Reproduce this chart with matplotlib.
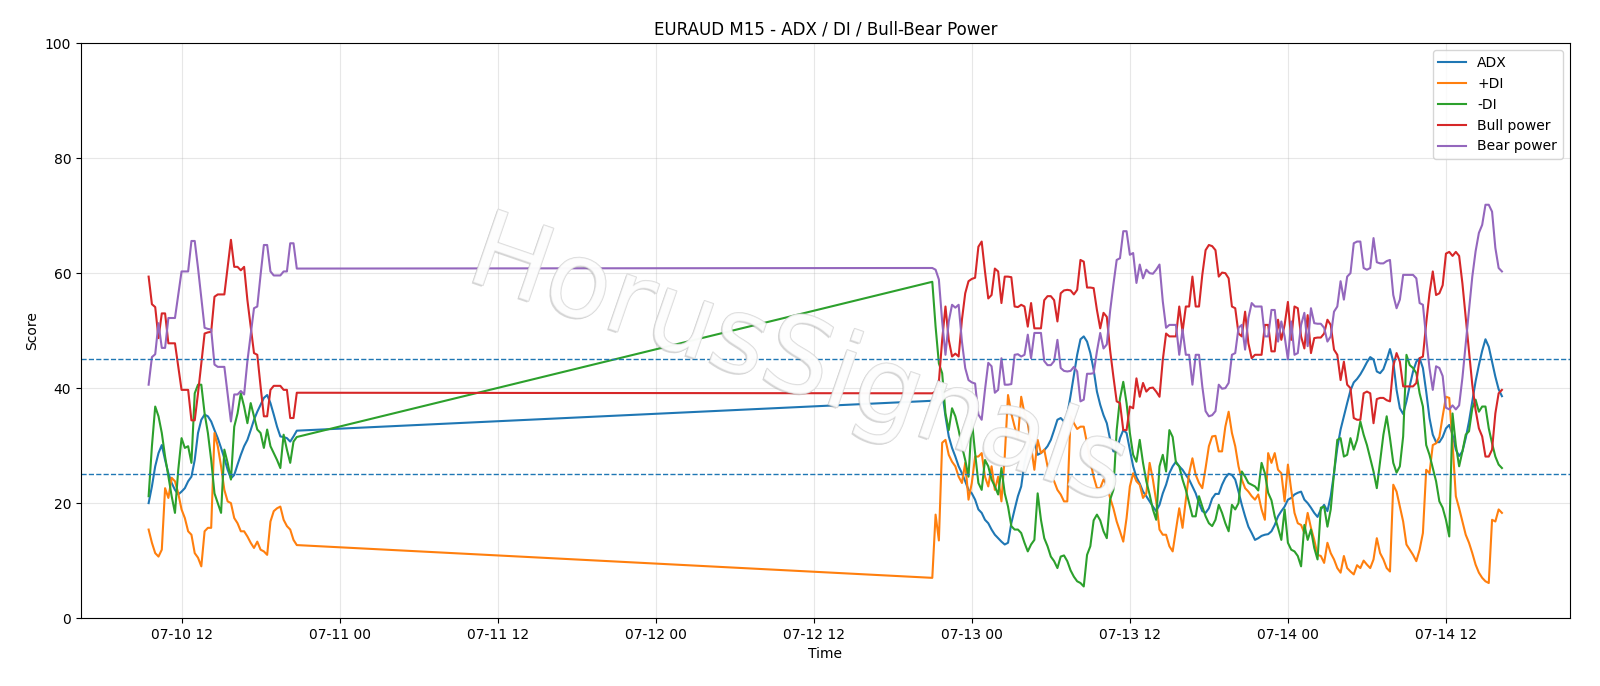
import numpy as np
import pandas as pd
import matplotlib
matplotlib.use("Agg")
import matplotlib.pyplot as plt
import matplotlib.dates as mdates
import matplotlib.patheffects as pe

# ---- data ----
seg1_start = "2026-07-10 09:30"
seg2_start = "2026-07-12 21:00"

adx1 = [20.0,22.9,26.4,28.7,30.1,27.5,25.2,23.5,22.3,21.5,22.0,22.6,23.8,24.6,27.5,32.2,34.5,35.4,35.1,34.2,
        32.7,31.3,29.6,27.8,25.8,24.3,24.9,26.7,28.4,29.9,31.0,32.7,34.5,35.9,37.1,38.3,38.8,37.4,35.4,33.3,
        31.6,31.5,31.3,30.7,31.6,32.6]
pdi1 = [15.4,13.1,11.3,10.7,11.9,22.6,20.9,24.4,23.8,21.7,18.9,17.4,15.1,14.5,11.3,10.5,9.0,15.1,15.7,15.7,
        32.2,29.9,26.4,22.3,20.3,20.0,17.4,16.5,15.1,15.1,14.2,13.1,12.2,13.3,11.9,11.6,11.0,16.8,18.6,19.1,
        19.4,17.1,16.0,15.4,13.6,12.7]
mdi1 = [21.2,29.9,36.8,35.1,32.2,28.1,24.6,21.2,18.3,25.8,31.3,29.6,29.9,27.0,39.1,40.6,40.6,35.6,32.2,27.5,
        21.7,20.0,18.3,29.3,27.0,24.1,33.3,35.6,39.1,36.8,33.9,37.4,35.1,32.8,32.2,29.6,32.8,29.9,28.7,27.5,
        26.1,31.9,29.3,27.0,30.7,31.5]
bull1 = [59.4,54.6,54.1,48.7,53.0,53.0,47.8,47.8,47.8,43.7,39.7,39.7,39.7,34.4,34.4,39.1,44.3,49.5,49.7,49.8,
         55.9,56.3,56.3,56.3,61.1,65.8,61.1,61.1,60.5,61.1,55.3,50.7,46.1,45.8,40.3,35.1,35.1,39.7,40.4,40.4,
         40.4,39.7,39.7,34.8,34.8,39.2]
bear1 = [40.6,45.4,45.9,51.3,47.0,47.0,52.2,52.2,52.2,56.3,60.3,60.3,60.3,65.6,65.6,60.9,55.7,50.5,50.3,50.2,
         44.1,43.7,43.7,43.7,38.9,34.2,38.9,38.9,39.5,38.9,44.7,49.3,53.9,54.2,59.7,64.9,64.9,60.3,59.6,59.6,
         59.6,60.3,60.3,65.2,65.2,60.8]

adx2 = [37.8,38.2,41.4,39.4,35.1,31.6,29.6,28.1,26.4,25.2,
        23.8,22.3,21.7,20.6,18.9,18.3,17.1,16.5,15.4,14.5,
        13.9,13.3,12.8,13.1,16.5,18.9,21.2,22.9,27.0,29.3,
        31.0,30.7,28.4,28.7,29.2,29.9,31.0,32.7,34.5,34.8,
        34.2,35.4,38.7,42.3,45.8,48.5,49.0,48.1,46.1,43.2,
        39.4,37.1,35.3,33.9,31.1,29.0,29.0,31.3,32.7,32.2,
        29.3,26.4,24.5,23.4,22.0,21.2,20.3,19.4,18.6,19.7,
        21.7,23.2,25.2,26.4,27.2,26.4,25.8,24.9,24.1,22.9,
        21.7,20.0,18.6,18.3,19.1,20.8,21.6,21.6,23.2,24.4,
        25.1,24.9,24.1,22.0,19.7,17.7,15.9,14.8,13.6,13.9,
        14.3,14.5,14.6,15.1,16.2,17.7,18.6,19.4,20.6,20.9,
        21.5,21.8,22.0,20.6,20.0,19.2,18.3,17.6,18.9,19.7,
        18.6,21.2,25.2,29.6,32.8,35.1,37.4,39.6,41.0,41.6,
        42.4,43.4,44.5,45.4,45.0,42.9,42.6,43.3,44.9,46.8,
        44.6,39.7,36.5,35.5,37.7,40.4,42.9,44.6,45.2,43.5,
        39.4,34.8,31.9,30.6,30.6,31.5,33.0,33.6,31.9,29.3,
        28.2,29.0,31.3,34.2,37.7,41.2,44.0,46.5,48.5,47.2,
        44.6,42.0,39.8,38.6]
pdi2 = [7.0,18.0,13.5,30.5,31.0,28.4,27.2,26.4,24.6,23.5,
        27.0,20.6,23.5,28.1,28.1,28.7,24.6,22.9,26.4,22.3,
        24.6,20.3,28.1,38.8,35.6,33.3,31.3,38.5,35.6,33.9,
        29.9,25.8,31.0,28.7,29.3,26.4,24.6,23.8,22.3,21.5,
        20.3,20.3,35.1,33.9,32.9,33.3,33.3,30.4,27.2,24.6,
        22.6,22.6,24.1,23.2,20.9,19.1,16.8,15.1,13.3,17.4,
        22.9,25.2,23.8,23.2,20.9,21.7,27.0,24.1,20.3,15.4,
        14.5,14.5,12.5,11.6,15.4,19.1,15.7,20.6,25.2,27.8,
        24.9,23.5,22.6,26.1,29.9,31.6,31.7,29.0,29.0,33.3,
        35.9,32.2,29.9,26.4,24.1,22.6,22.0,21.2,20.6,21.5,
        18.9,17.1,28.7,27.0,28.7,25.8,25.2,20.3,26.7,22.3,
        18.3,16.5,16.2,14.8,18.3,15.7,13.6,11.0,10.8,9.6,
        13.1,11.3,10.2,8.7,7.9,10.8,8.7,8.1,7.6,9.2,
        8.7,10.0,9.3,8.7,10.2,13.9,11.3,10.2,8.7,8.1,
        23.2,22.0,19.4,16.8,12.8,11.9,11.0,9.9,11.9,14.8,
        25.8,25.2,30.1,30.4,31.5,35.1,38.5,38.3,30.4,21.2,
        19.1,16.8,14.5,13.1,11.3,9.3,7.9,7.0,6.4,6.1,
        17.1,16.8,18.9,18.3]
mdi2 = [58.5,50.7,44.3,42.6,35.6,32.7,36.5,35.1,32.7,29.9,
        27.5,24.6,34.5,28.7,23.5,22.3,27.5,26.4,24.1,22.9,
        21.5,26.1,21.7,19.4,16.0,15.4,15.4,14.8,13.1,11.6,
        12.8,13.6,21.7,17.1,13.9,12.5,10.7,9.9,8.7,10.7,
        10.9,9.9,8.3,7.2,6.4,6.1,5.5,11.0,12.5,17.0,
        18.0,17.0,15.1,13.9,20.6,22.3,32.7,38.2,41.1,37.4,
        32.2,28.4,27.2,31.0,27.0,23.8,21.5,18.9,17.1,26.4,
        28.4,25.5,32.7,31.5,27.0,26.4,24.1,22.3,20.0,17.7,
        17.7,21.2,19.4,17.7,16.5,16.0,17.1,19.7,18.3,16.5,
        15.1,19.7,18.9,20.0,25.5,24.6,23.5,23.2,22.9,22.2,
        27.0,25.2,21.8,20.5,17.7,15.7,13.6,18.9,13.1,11.9,
        11.6,10.8,9.0,16.2,13.6,15.4,12.2,10.2,19.2,19.4,
        15.9,18.9,25.2,31.0,31.3,28.1,28.4,31.3,29.3,31.0,
        34.2,31.9,30.1,27.8,25.5,22.6,27.3,31.9,35.1,31.3,
        27.0,25.3,26.4,31.6,45.8,44.0,43.5,42.6,39.1,36.8,
        30.1,28.4,26.1,23.8,20.3,19.2,17.1,14.2,35.6,30.1,
        26.4,29.0,31.9,32.5,36.5,38.0,35.9,36.8,36.8,33.0,
        30.4,28.1,26.7,26.1]
bull2 = [39.1,39.4,41.1,48.4,54.2,48.4,45.5,46.0,45.5,51.9,
         56.5,58.6,59.0,59.2,64.6,65.5,60.3,55.6,56.2,60.8,
         60.3,54.8,59.4,59.4,59.3,54.2,54.1,54.5,54.2,50.7,
         54.8,50.4,50.4,50.4,55.3,56.0,56.0,55.3,51.6,56.5,
         57.0,57.1,57.0,56.3,57.1,62.3,62.0,57.5,57.5,57.4,
         53.6,50.4,53.1,52.4,46.6,42.0,37.7,37.4,32.7,32.7,
         36.8,36.5,41.7,38.5,40.9,39.4,40.0,40.1,39.4,38.5,
         44.9,49.5,49.0,49.0,49.0,54.2,49.8,54.2,54.2,59.4,
         54.2,54.2,59.7,64.0,64.9,64.7,64.0,59.4,60.1,60.0,
         59.1,54.2,53.9,49.5,49.0,53.3,47.8,45.2,45.8,45.8,
         45.8,51.0,51.0,46.4,46.4,51.9,48.4,51.0,55.0,48.4,
         54.2,53.9,49.0,46.9,52.7,46.1,48.7,48.8,48.8,49.5,
         51.9,51.0,46.7,45.8,41.4,44.6,40.6,40.0,34.8,34.5,
         34.5,39.1,39.4,39.1,33.9,38.1,38.3,38.3,37.9,37.7,
         43.8,46.1,44.6,40.3,40.3,40.3,40.3,40.9,45.2,45.5,
         51.3,56.5,60.3,56.2,56.5,57.9,63.4,63.7,63.0,63.7,
         63.0,58.2,52.2,46.4,40.6,36.2,33.0,31.6,28.1,28.1,
         29.3,35.6,39.1,39.7]
bear2 = [60.9,60.6,58.9,51.6,45.8,51.6,54.5,54.0,54.5,48.1,
         43.5,41.4,41.0,40.8,35.4,34.5,39.7,44.4,43.8,39.2,
         39.7,45.2,40.6,40.6,40.7,45.8,45.9,45.5,45.8,49.3,
         45.2,49.6,49.6,49.6,44.7,44.0,44.0,44.7,48.4,43.5,
         43.0,42.9,43.0,43.7,42.9,37.7,38.0,42.5,42.5,42.6,
         46.4,49.6,46.9,47.6,53.4,58.0,62.3,62.6,67.3,67.3,
         63.2,63.5,58.3,61.5,59.1,60.6,60.0,59.9,60.6,61.5,
         55.1,50.5,51.0,51.0,51.0,45.8,50.2,45.8,45.8,40.6,
         45.8,45.8,40.3,36.0,35.1,35.3,36.0,40.6,39.9,40.0,
         40.9,45.8,46.1,50.5,51.0,46.7,52.2,54.8,54.2,54.2,
         54.2,49.0,49.0,53.6,53.6,48.1,51.6,49.0,45.0,51.6,
         45.8,46.1,51.0,53.1,47.3,53.9,51.3,51.2,51.2,50.5,
         48.1,49.0,53.3,54.2,58.6,55.4,59.4,60.0,65.2,65.5,
         65.5,60.9,60.6,60.9,66.1,61.9,61.7,61.7,62.1,62.3,
         56.2,53.9,55.4,59.7,59.7,59.7,59.7,59.1,54.8,54.5,
         48.7,43.5,39.7,43.8,43.5,42.1,36.6,36.3,37.0,36.3,
         37.0,41.8,47.8,53.6,59.4,63.8,67.0,68.4,71.9,71.9,
         70.7,64.4,60.9,60.3]

levels = [45, 25]
title = "EURAUD M15 - ADX / DI / Bull-Bear Power"
watermark = "HorusSignals"

# ---- build ----
t = pd.date_range(seg1_start, periods=len(adx1), freq="15min").append(
    pd.date_range(seg2_start, periods=len(adx2), freq="15min"))
series = [("ADX", adx1 + adx2), ("+DI", pdi1 + pdi2), ("-DI", mdi1 + mdi2),
          ("Bull power", bull1 + bull2), ("Bear power", bear1 + bear2)]

fig = plt.figure(figsize=(16, 6.86), dpi=100)
ax = fig.add_axes([0.0506, 0.099, 0.9304, 0.838])
for i, (name, vals) in enumerate(series):
    ax.plot(t, vals, color=f"C{i}", lw=1.5, label=name)
for lv in levels:
    ax.axhline(lv, color="C0", ls="--", lw=1)

ax.set_ylim(0, 100)
ax.grid(True, alpha=0.3)
ax.xaxis.set_major_locator(mdates.HourLocator(byhour=[0, 12]))
ax.xaxis.set_major_formatter(mdates.DateFormatter("%m-%d %H"))
ax.set_title(title, fontsize=12)
ax.set_xlabel("Time")
ax.set_ylabel("Score")
ax.legend(loc="upper right")

ax.text(0.482, 0.443, watermark, transform=ax.transAxes, fontsize=76,
        rotation=-19, ha="center", va="center", color="white", alpha=0.55,
        zorder=10,
        path_effects=[pe.withSimplePatchShadow(offset=(-1, -1), shadow_rgbFace="#808080", alpha=0.3),
                      pe.Stroke(linewidth=1.0, foreground="#d0d0d0", alpha=0.8),
                      pe.Normal()])

fig.savefig("out.png", dpi=100)
